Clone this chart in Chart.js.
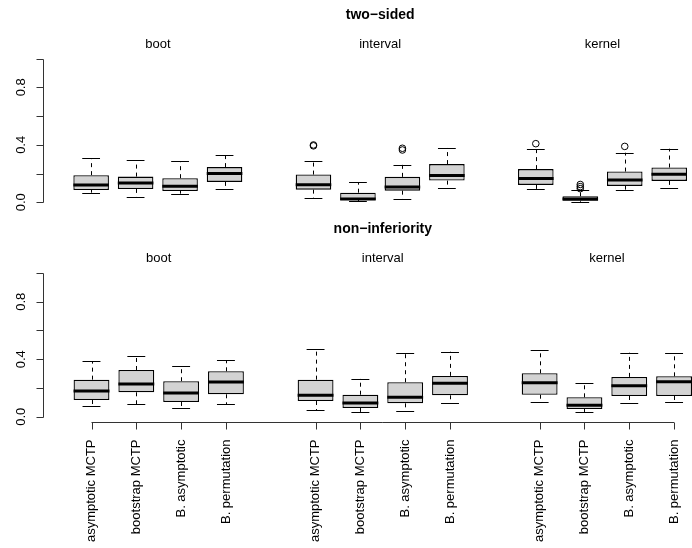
<!DOCTYPE html>
<html>
<head>
<meta charset="utf-8">
<title>two-sided / non-inferiority</title>
<script src="https://cdn.jsdelivr.net/npm/chart.js@4.4.1/dist/chart.umd.min.js"></script>
<style>
  html, body { margin: 0; padding: 0; background: #fff; }
  #wrap { position: relative; width: 692px; height: 548px; overflow: hidden; }
  #wrap canvas { position: absolute; left: 0; top: 0; }
</style>
</head>
<body>
<div id="wrap">
  <canvas id="top-chart" width="692" height="548"></canvas>
  <canvas id="bottom-chart" width="692" height="548"></canvas>
</div>
<script>
const methods = ["asymptotic MCTP", "bootstrap MCTP", "B. asymptotic", "B. permutation"];
const groups = ["boot", "interval", "kernel"];
const boxPositions = [1, 2, 3, 4, 6, 7, 8, 9, 11, 12, 13, 14];
const groupCenters = [2.5, 7.5, 12.5];
const yTicks = [0, 0.2, 0.4, 0.6, 0.8, 1];
const yTickLabels = ["0.0", "", "0.4", "", "0.8", ""];
const panelTitles = ["two\u2212sided", "non\u2212inferiority"];

// each box: [lower whisker, Q1, median, Q3, upper whisker]
const twoSidedStats = [
  [0.067, 0.086, 0.121, 0.189, 0.305],
  [0.037, 0.093, 0.135, 0.179, 0.291],
  [0.060, 0.079, 0.112, 0.168, 0.284],
  [0.091, 0.142, 0.200, 0.245, 0.331],
  [0.030, 0.088, 0.123, 0.193, 0.289],
  [0.007, 0.016, 0.023, 0.067, 0.140],
  [0.025, 0.081, 0.107, 0.177, 0.261],
  [0.102, 0.151, 0.186, 0.266, 0.378],
  [0.091, 0.121, 0.165, 0.231, 0.368],
  [0.004, 0.011, 0.023, 0.042, 0.088],
  [0.088, 0.114, 0.156, 0.214, 0.345],
  [0.100, 0.149, 0.196, 0.242, 0.373],
];
const twoSidedOutliers = [[], [], [], [], [0.393, 0.399], [], [0.364, 0.376], [], [0.408], [0.095, 0.109, 0.124], [0.389], []];

const nonInfStats = [
  [0.072, 0.116, 0.179, 0.258, 0.386],
  [0.088, 0.170, 0.228, 0.325, 0.425],
  [0.063, 0.102, 0.165, 0.247, 0.355],
  [0.086, 0.156, 0.242, 0.316, 0.393],
  [0.044, 0.109, 0.149, 0.258, 0.472],
  [0.030, 0.061, 0.095, 0.153, 0.265],
  [0.037, 0.093, 0.135, 0.240, 0.444],
  [0.093, 0.149, 0.232, 0.284, 0.453],
  [0.105, 0.153, 0.237, 0.302, 0.467],
  [0.033, 0.054, 0.079, 0.135, 0.235],
  [0.093, 0.144, 0.216, 0.277, 0.446],
  [0.105, 0.144, 0.244, 0.281, 0.446],
];
const nonInfOutliers = [[], [], [], [], [], [], [], [], [], [], [], []];

const FONT = '"Liberation Sans", Arial, Helvetica, sans-serif';
const COLORS = { box: "#d3d3d3", line: "#000000", axis: "#333333", text: "#000000" };
const BOX_WIDTH = 0.8;
const CAP_WIDTH = 0.4;

// R plot region: xlim 0.5..14.5 plus 4%, the right end runs off the page
const X_MIN = -0.06;
const X_MAX = 14.4;
const Y_MIN = -0.04;
const Y_MAX = 1.04;

// R-style boxplot pieces (whiskers, staples, medians), axes and panel labels.
const rBoxPlugin = {
  id: "rbox",
  afterDatasetsDraw(chart, args, opts) {
    const { ctx } = chart;
    const px = (v) => chart.scales.x.getPixelForValue(v);
    const py = (v) => chart.scales.y.getPixelForValue(v);
    ctx.save();
    ctx.strokeStyle = COLORS.line;
    ctx.lineCap = "butt";
    opts.stats.forEach(([lo, q1, med, q3, hi], i) => {
      const pos = boxPositions[i];
      const cx = Math.round(px(pos)) + 0.5;
      ctx.lineWidth = 1;
      ctx.setLineDash([4, 4]);
      ctx.beginPath();
      ctx.moveTo(cx, py(q3));
      ctx.lineTo(cx, py(hi));
      ctx.moveTo(cx, py(q1));
      ctx.lineTo(cx, py(lo));
      ctx.stroke();
      ctx.setLineDash([]);
      ctx.beginPath();
      [hi, lo].forEach((v) => {
        const y = Math.round(py(v)) + 0.5;
        ctx.moveTo(px(pos - CAP_WIDTH / 2), y);
        ctx.lineTo(px(pos + CAP_WIDTH / 2), y);
      });
      ctx.stroke();
      ctx.lineWidth = 3;
      ctx.beginPath();
      ctx.moveTo(px(pos - BOX_WIDTH / 2), py(med));
      ctx.lineTo(px(pos + BOX_WIDTH / 2), py(med));
      ctx.stroke();
    });
    ctx.restore();
  },
  afterDraw(chart, args, opts) {
    const { ctx, chartArea } = chart;
    const px = (v) => chart.scales.x.getPixelForValue(v);
    const py = (v) => chart.scales.y.getPixelForValue(v);
    ctx.save();

    // y axis, from first to last tick like base R
    const ax = Math.round(chartArea.left) - 0.5;
    ctx.strokeStyle = COLORS.axis;
    ctx.lineWidth = 1;
    ctx.beginPath();
    ctx.moveTo(ax, Math.round(py(yTicks[0])) + 0.5);
    ctx.lineTo(ax, Math.round(py(yTicks[yTicks.length - 1])) + 0.5);
    yTicks.forEach((t) => {
      const y = Math.round(py(t)) + 0.5;
      ctx.moveTo(ax, y);
      ctx.lineTo(ax - 7, y);
    });
    ctx.stroke();
    ctx.fillStyle = COLORS.text;
    ctx.font = `13px ${FONT}`;
    ctx.textAlign = "center";
    ctx.textBaseline = "middle";
    yTicks.forEach((t, i) => {
      if (!yTickLabels[i]) return;
      ctx.save();
      ctx.translate(ax - 22, py(t));
      ctx.rotate(-Math.PI / 2);
      ctx.fillText(yTickLabels[i], 0, 0);
      ctx.restore();
    });

    // x axis only under the lower panel
    if (opts.xAxis) {
      const ay = Math.round(chartArea.bottom) + 0.5;
      ctx.beginPath();
      ctx.moveTo(px(boxPositions[0]), ay);
      ctx.lineTo(px(boxPositions[boxPositions.length - 1]), ay);
      boxPositions.forEach((p) => {
        const x = Math.round(px(p)) + 0.5;
        ctx.moveTo(x, ay);
        ctx.lineTo(x, ay + 7);
      });
      ctx.stroke();
      ctx.textAlign = "right";
      ctx.textBaseline = "middle";
      boxPositions.forEach((p, i) => {
        ctx.save();
        ctx.translate(px(p), ay + 17);
        ctx.rotate(-Math.PI / 2);
        ctx.fillText(methods[i % methods.length], 0, 0);
        ctx.restore();
      });
    }

    // panel title and group names
    ctx.textAlign = "center";
    ctx.textBaseline = "middle";
    ctx.font = `bold 14px ${FONT}`;
    ctx.fillText(opts.title, px(7.5), chartArea.top - 38);
    ctx.font = `13px ${FONT}`;
    groups.forEach((g, i) => {
      ctx.fillText(g, px(groupCenters[i]), chartArea.top - 8.5);
    });
    ctx.restore();
  },
};

const makePanel = (canvasId, stats, outliers, title, padding, xAxis) => {
  const boxes = stats.map((s, i) => ({ x: boxPositions[i], y: [s[1], s[3]] }));
  const points = outliers.flatMap((list, i) => list.map((v) => ({ x: boxPositions[i], y: v })));
  return new Chart(document.getElementById(canvasId), {
    type: "bar",
    data: {
      datasets: [
        {
          type: "scatter",
          data: points,
          pointStyle: "circle",
          pointRadius: 3.3,
          pointBorderWidth: 1,
          pointBorderColor: COLORS.line,
          pointBackgroundColor: "rgba(0,0,0,0)",
        },
        {
          type: "bar",
          data: boxes,
          backgroundColor: COLORS.box,
          borderColor: "#000000",
          borderWidth: 1.3,
          borderSkipped: false,
          categoryPercentage: 1,
          barPercentage: BOX_WIDTH,
        },
      ],
    },
    options: {
      responsive: false,
      animation: false,
      devicePixelRatio: 1,
      layout: { padding },
      scales: {
        x: { type: "linear", min: X_MIN, max: X_MAX, display: false, offset: false },
        y: { type: "linear", min: Y_MIN, max: Y_MAX, display: false },
      },
      plugins: {
        legend: { display: false },
        tooltip: { enabled: false },
        rbox: { stats, title, xAxis },
      },
    },
    plugins: [rBoxPlugin],
  });
};

makePanel("top-chart", twoSidedStats, twoSidedOutliers, panelTitles[0],
  { left: 44, right: 0, top: 52.85, bottom: 339.95 }, false);
makePanel("bottom-chart", nonInfStats, nonInfOutliers, panelTitles[1],
  { left: 44, right: 0, top: 267.25, bottom: 125.55 }, true);
</script>
</body>
</html>
